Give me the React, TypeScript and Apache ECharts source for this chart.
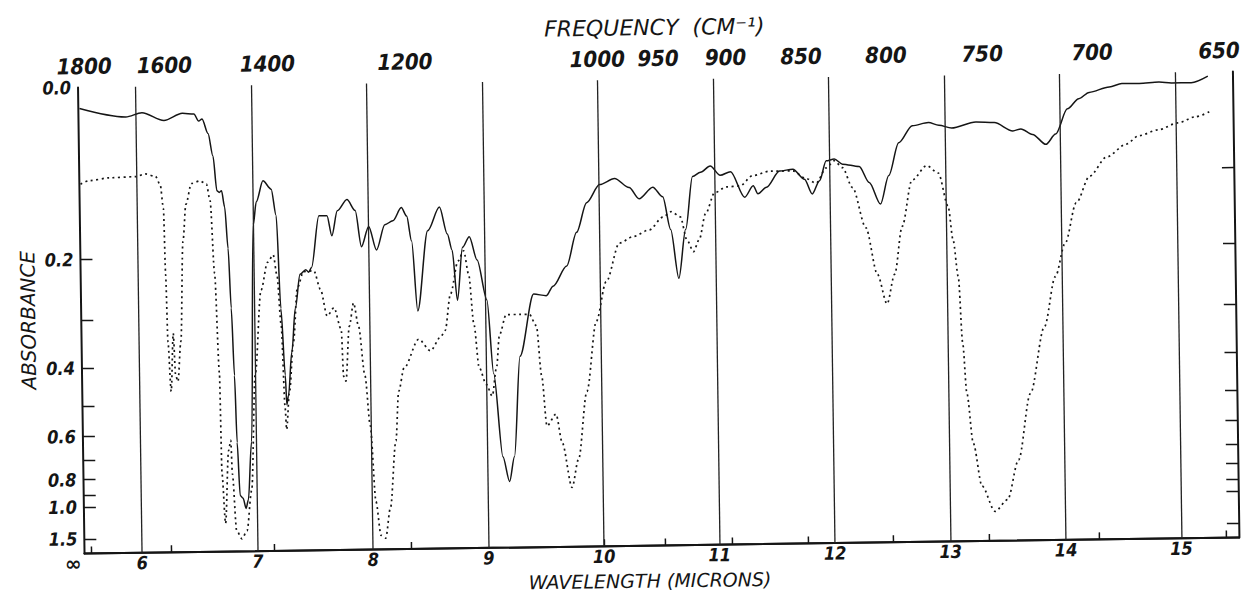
import React, { useEffect, useRef } from "react";
import * as echarts from "echarts";

// Spectrum traces: [wavelength (microns), absorbance]
const solidSpectrum: [number, number][] = [
  [5.51, 0.020], [5.91, 0.029], [6.05, 0.025], [6.24, 0.033], [6.40, 0.026], [6.50, 0.027],
  [6.54, 0.034], [6.57, 0.032], [6.62, 0.047], [6.66, 0.071], [6.69, 0.111], [6.71, 0.113],
  [6.73, 0.111], [6.755, 0.131], [6.78, 0.187], [6.80, 0.282], [6.82, 0.423], [6.835, 0.631],
  [6.855, 0.921], [6.88, 0.943], [6.905, 1.036], [6.925, 0.959], [6.96, 0.629], [7.00, 0.155],
  [7.03, 0.125], [7.09, 0.100], [7.16, 0.110], [7.20, 0.143], [7.23, 0.284], [7.26, 0.424],
  [7.27, 0.504], [7.285, 0.478], [7.32, 0.370], [7.355, 0.284], [7.40, 0.227], [7.45, 0.220],
  [7.475, 0.224], [7.50, 0.217], [7.57, 0.144], [7.64, 0.144], [7.68, 0.171], [7.73, 0.138],
  [7.815, 0.124], [7.885, 0.138], [7.935, 0.187], [8.00, 0.159], [8.065, 0.192], [8.14, 0.157],
  [8.21, 0.152], [8.285, 0.135], [8.33, 0.146], [8.37, 0.180], [8.415, 0.292], [8.51, 0.166],
  [8.615, 0.135], [8.68, 0.171], [8.72, 0.194], [8.76, 0.274], [8.81, 0.190], [8.87, 0.175],
  [8.935, 0.209], [9.015, 0.274], [9.065, 0.427], [9.135, 0.710], [9.19, 0.848], [9.235, 0.710],
  [9.295, 0.387], [9.42, 0.265], [9.53, 0.268], [9.59, 0.252], [9.71, 0.220], [9.80, 0.171],
  [9.89, 0.132], [10.005, 0.110], [10.135, 0.103], [10.26, 0.114], [10.345, 0.128], [10.465, 0.114],
  [10.55, 0.126], [10.615, 0.169], [10.68, 0.242], [10.745, 0.169], [10.81, 0.102], [10.88, 0.097],
  [10.965, 0.090], [11.05, 0.101], [11.14, 0.097], [11.26, 0.128], [11.335, 0.114], [11.375, 0.124],
  [11.45, 0.116], [11.565, 0.097], [11.68, 0.095], [11.78, 0.107], [11.845, 0.125], [11.91, 0.109],
  [11.97, 0.086], [12.04, 0.084], [12.11, 0.090], [12.255, 0.093], [12.34, 0.112], [12.435, 0.139],
  [12.51, 0.104], [12.60, 0.067], [12.72, 0.049], [12.86, 0.046], [12.95, 0.049], [13.06, 0.052],
  [13.27, 0.046], [13.43, 0.047], [13.59, 0.056], [13.66, 0.054], [13.76, 0.060], [13.875, 0.071],
  [13.96, 0.060], [14.065, 0.034], [14.165, 0.024], [14.255, 0.018], [14.43, 0.013], [14.54, 0.010],
  [14.69, 0.010], [14.86, 0.009], [14.97, 0.010], [15.14, 0.010], [15.285, 0.004],
];

const dottedSpectrum: [number, number][] = [
  [5.51, 0.101], [5.585, 0.097], [5.76, 0.094], [5.99, 0.093], [6.07, 0.090], [6.16, 0.093],
  [6.20, 0.103], [6.225, 0.132], [6.236, 0.225], [6.248, 0.345], [6.27, 0.462], [6.295, 0.328],
  [6.31, 0.420], [6.33, 0.436], [6.36, 0.345], [6.39, 0.176], [6.42, 0.127], [6.47, 0.102],
  [6.545, 0.099], [6.60, 0.103], [6.63, 0.123], [6.66, 0.224], [6.69, 0.417], [6.70, 0.775],
  [6.725, 1.22], [6.76, 0.664], [6.78, 0.623], [6.79, 0.777], [6.82, 1.35], [6.865, 1.57],
  [6.91, 1.36], [6.955, 0.886], [7.00, 0.420], [7.06, 0.252], [7.12, 0.208], [7.17, 0.197],
  [7.20, 0.228], [7.23, 0.313], [7.255, 0.514], [7.265, 0.585], [7.295, 0.466], [7.335, 0.348],
  [7.375, 0.249], [7.43, 0.223], [7.52, 0.222], [7.575, 0.252], [7.63, 0.299], [7.69, 0.284],
  [7.75, 0.325], [7.765, 0.429], [7.785, 0.441], [7.82, 0.319], [7.86, 0.276], [7.90, 0.319],
  [7.95, 0.428], [7.99, 0.575], [8.03, 0.987], [8.07, 1.52], [8.11, 1.62], [8.155, 1.05],
  [8.21, 0.634], [8.24, 0.470], [8.29, 0.410], [8.42, 0.347], [8.52, 0.372], [8.61, 0.343],
  [8.65, 0.330], [8.70, 0.263], [8.77, 0.210], [8.82, 0.195], [8.86, 0.231], [8.90, 0.319],
  [8.94, 0.412], [9.00, 0.455], [9.05, 0.487], [9.09, 0.413], [9.12, 0.340], [9.18, 0.301],
  [9.30, 0.301], [9.38, 0.301], [9.44, 0.323], [9.48, 0.434], [9.52, 0.585], [9.60, 0.545],
  [9.65, 0.650], [9.73, 0.896], [9.79, 0.726], [9.87, 0.478], [9.96, 0.316], [10.05, 0.246],
  [10.17, 0.187], [10.29, 0.178], [10.43, 0.169], [10.55, 0.152], [10.62, 0.145], [10.70, 0.152],
  [10.755, 0.184], [10.81, 0.201], [10.86, 0.184], [10.92, 0.148], [11.00, 0.122], [11.10, 0.115],
  [11.22, 0.114], [11.33, 0.102], [11.48, 0.097], [11.68, 0.097], [11.79, 0.106], [11.88, 0.112],
  [11.97, 0.094], [12.04, 0.086], [12.11, 0.094], [12.195, 0.118], [12.305, 0.170], [12.40, 0.240],
  [12.48, 0.291], [12.55, 0.240], [12.62, 0.169], [12.71, 0.110], [12.84, 0.093], [12.94, 0.102],
  [13.02, 0.143], [13.06, 0.190], [13.10, 0.246], [13.13, 0.371], [13.16, 0.498], [13.21, 0.678],
  [13.28, 0.928], [13.39, 1.20], [13.50, 1.056], [13.60, 0.762], [13.71, 0.502], [13.84, 0.339],
  [13.94, 0.248], [14.03, 0.196], [14.13, 0.141], [14.25, 0.108], [14.40, 0.086], [14.57, 0.072],
  [14.68, 0.063], [14.85, 0.057], [15.02, 0.050], [15.17, 0.044], [15.31, 0.038],
];

const wavelengthTicks = [6, 7, 8, 9, 10, 11, 12, 13, 14, 15];
const frequencyTicks = [1800, 1600, 1400, 1200, 1000, 950, 900, 850, 800, 750, 700, 650];
const absorbanceLabels = [0, 0.2, 0.4, 0.6, 0.8, 1.0, 1.5];
const leftTickAbsorbance = [0.2, 0.3, 0.4, 0.5, 0.6, 0.7, 0.8, 0.9, 1.0, 1.5];
const rightTickAbsorbance = [0.1, 0.2, 0.3, 0.4, 0.5, 0.6, 0.7, 0.8, 0.9, 1.0, 1.5];

// Linear-in-transmittance scale: position follows 10^(-absorbance)
const toT = (a: number) => Math.pow(10, -a);
const toPoints = (s: [number, number][]) => s.map(([w, a]) => [w, toT(a)]);

const INK = "#151515";
const LABEL_FONT = "'DejaVu Sans Condensed', 'DejaVu Sans', sans-serif";
const TITLE_FONT = "'DejaVu Sans', sans-serif";

export default function App() {
  const ref = useRef<HTMLDivElement>(null);

  useEffect(() => {
    if (!ref.current) return;
    const chart = echarts.init(ref.current, undefined, { renderer: "svg" });
    const absFormatter = (v: number) => Math.abs(-Math.log10(v)).toFixed(1);

    chart.setOption({
      animation: false,
      backgroundColor: "#ffffff",
      grid: { left: 81, right: 4, top: 80, bottom: 47, containLabel: false },
      xAxis: [
        {
          type: "value",
          position: "bottom",
          min: 5.5,
          max: 15.5,
          axisLine: { show: true, lineStyle: { color: INK, width: 2 } },
          axisTick: { show: false },
          splitLine: { show: false },
          axisLabel: {
            customValues: wavelengthTicks,
            formatter: (v: number) => String(v),
            margin: 1,
            color: INK,
            fontFamily: LABEL_FONT,
            fontStyle: "italic",
            fontWeight: "bold",
            fontSize: 18,
          },
        },
        {
          type: "value",
          position: "top",
          min: 5.5,
          max: 15.5,
          axisLine: { show: true, lineStyle: { color: INK, width: 2 } },
          axisTick: {
            show: true,
            inside: false,
            length: 7,
            customValues: frequencyTicks.map((f) => 10000 / f),
            lineStyle: { color: INK, width: 1.5 },
          },
          splitLine: { show: false },
          axisLabel: {
            customValues: frequencyTicks.map((f) => 10000 / f),
            formatter: (v: number) => String(Math.round(10000 / v)),
            margin: 10,
            color: INK,
            fontFamily: LABEL_FONT,
            fontStyle: "italic",
            fontWeight: "bold",
            fontSize: 22,
          },
        },
      ],
      yAxis: [
        {
          type: "value",
          position: "left",
          min: 0,
          max: 1,
          axisLine: { show: true, lineStyle: { color: INK, width: 2 } },
          axisTick: {
            show: true,
            inside: true,
            length: 12,
            customValues: leftTickAbsorbance.map(toT),
            lineStyle: { color: INK, width: 1.5 },
          },
          splitLine: { show: false },
          axisLabel: {
            customValues: absorbanceLabels.map(toT),
            formatter: absFormatter,
            showMinLabel: true,
            showMaxLabel: true,
            hideOverlap: false,
            margin: 7,
            color: INK,
            fontFamily: LABEL_FONT,
            fontStyle: "italic",
            fontWeight: "bold",
            fontSize: 18,
          },
        },
        {
          type: "value",
          position: "right",
          min: 0,
          max: 1,
          axisLine: { show: true, lineStyle: { color: INK, width: 2 } },
          axisTick: {
            show: true,
            inside: true,
            length: 12,
            customValues: rightTickAbsorbance.map(toT),
            lineStyle: { color: INK, width: 1.5 },
          },
          splitLine: { show: false },
          axisLabel: { show: false },
        },
        {
          // zero transmittance = infinite absorbance, set just below the axis end
          type: "value",
          position: "left",
          min: 0,
          max: 1,
          axisLine: { show: false },
          axisTick: { show: false },
          splitLine: { show: false },
          axisLabel: {
            customValues: [0],
            formatter: () => "∞",
            showMinLabel: true,
            margin: 3,
            verticalAlign: "top",
            lineHeight: 20,
            color: INK,
            fontFamily: TITLE_FONT,
            fontWeight: "bold",
            fontSize: 20,
          },
        },
      ],
      series: [
        {
          name: "solid",
          type: "line",
          xAxisIndex: 0,
          yAxisIndex: 0,
          data: toPoints(solidSpectrum),
          showSymbol: false,
          smooth: 0.3,
          smoothMonotone: "x",
          lineStyle: { color: INK, width: 1.5 },
          silent: true,
          markLine: {
            silent: true,
            symbol: ["none", "none"],
            label: { show: false },
            lineStyle: { color: "#222", width: 1.3, type: "solid" },
            data: wavelengthTicks.map((w) => ({ xAxis: w })),
          },
          z: 3,
        },
        {
          name: "dotted",
          type: "line",
          xAxisIndex: 0,
          yAxisIndex: 0,
          data: toPoints(dottedSpectrum),
          showSymbol: false,
          smooth: 0.3,
          smoothMonotone: "x",
          lineStyle: { color: INK, width: 1.7, type: [2, 3.5] },
          silent: true,
          z: 3,
        },
      ],
      graphic: [
        {
          type: "text",
          x: 658,
          y: 28,
          style: {
            text: "FREQUENCY  (CM⁻¹)",
            fill: INK,
            fontFamily: TITLE_FONT,
            fontStyle: "italic",
            fontSize: 22,
            align: "center",
            verticalAlign: "middle",
          },
        },
        {
          type: "text",
          x: 646,
          y: 581,
          style: {
            text: "WAVELENGTH (MICRONS)",
            fill: INK,
            fontFamily: TITLE_FONT,
            fontStyle: "italic",
            fontSize: 19,
            align: "center",
            verticalAlign: "middle",
          },
        },
        {
          type: "text",
          x: 28,
          y: 312,
          rotation: Math.PI / 2,
          style: {
            text: "ABSORBANCE",
            fill: INK,
            fontFamily: TITLE_FONT,
            fontStyle: "italic",
            fontSize: 20,
            align: "center",
            verticalAlign: "middle",
          },
        },
      ],
    });

    return () => chart.dispose();
  }, []);

  return (
    <div
      style={{
        position: "fixed",
        left: 0,
        top: 0,
        width: 1246,
        height: 593,
        background: "#ffffff",
        overflow: "hidden",
      }}
    >
      <div
        ref={ref}
        style={{
          width: 1246,
          height: 593,
          transform: "rotate(-0.8deg)",
          transformOrigin: "623px 296.5px",
        }}
      />
    </div>
  );
}
